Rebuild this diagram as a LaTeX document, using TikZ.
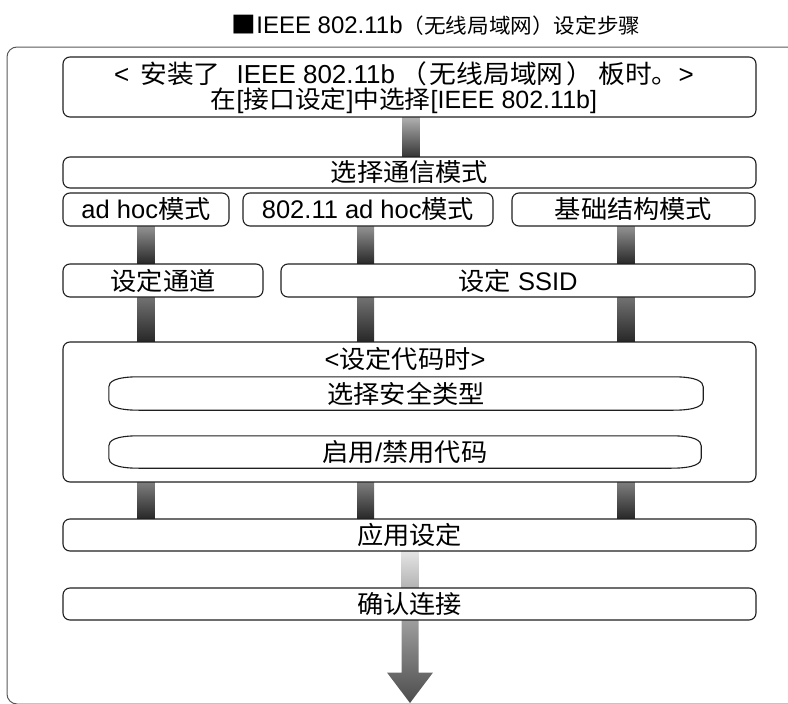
\documentclass[tikz,border=0pt]{standalone}
\usepackage{fontspec}
\setmainfont{Liberation Sans}
\newfontfamily\cjk[FakeStretch=1.05,Scale=0.98]{Noto Sans CJK SC}
\usetikzlibrary{calc}
\newcommand\zh[1]{{\cjk #1}}
\pgfdeclarelayer{bg}
\pgfsetlayers{bg,main}
\begin{document}
\begin{tikzpicture}[x=1pt,y=-1pt,
  box/.style={draw=black!88, line width=1.1pt, rounded corners=7pt, fill=white,
    inner sep=0pt, font=\fontsize{25.5}{23}\selectfont},
  plain/.style={inner sep=0pt, font=\fontsize{25.5}{23}\selectfont},
  tline/.style={inner sep=0pt, text height=18pt, text depth=4pt},
  pillline/.style={draw=black!88, line width=1.1pt},
  frameline/.style={draw=black!65, line width=1pt, rounded corners=10pt}]
\useasboundingbox (0,0) rectangle (788,704);

% title
\node[plain, font=\fontsize{24}{24}\selectfont] (title) at (436,25) {\zh{■}IEEE 802.11b{\cjk\fontsize{21}{21}\selectfont（无线局域网）设定步骤}};

% outer frame
\draw[frameline] (800,47) -- (7,47) -- (7,704) -- (800,704);

% boxes
\node[box, minimum width=693, minimum height=60] (b1) at (409.5,87) {};
\node[tline, font=\fontsize{26}{23}\selectfont] (b1l1) at (404,76)
  {<\hspace{11pt}\zh{安装了}\hspace{16pt}IEEE 802.11b\hspace{5pt}\zh{（}\hspace{3pt}\zh{无线局域网}\hspace{3pt}\zh{）}\hspace{5pt}\zh{板时。}>};
\node[tline, font=\fontsize{25}{23}\selectfont] (b1l2) at (404,101)
  {\zh{在}[\zh{接口设定}]\zh{中选择}[IEEE 802.11b]};
\node[box, minimum width=693, minimum height=31] (b2) at (409.5,172.5) {\zh{选择通信模式}};
\node[box, minimum width=166, minimum height=33] (b3a) at (146,209.5) {ad hoc\zh{模式}};
\node[box, minimum width=250, minimum height=33] (b3b) at (368,209.5) {802.11 ad hoc\zh{模式}};
\node[box, minimum width=243, minimum height=33] (b3c) at (633.5,209.5) {\zh{基础结构模式}};
\node[box, minimum width=200, minimum height=33] (b4a) at (163,280.5) {\zh{设定通道}};
\node[box, minimum width=474, minimum height=33] (b4b) at (518,280.5) {\zh{设定} SSID};
\node[box, minimum width=693, minimum height=140] (b5) at (409.5,412) {};
\node[plain] (b5t) at (405,359) {<\zh{设定代码时}>};
\node[plain, minimum width=594, minimum height=33] (i1) at (406,393.5) {\zh{选择安全类型}};
\node[plain, minimum width=592, minimum height=32] (i2) at (405,452) {\zh{启用}/\zh{禁用代码}};
\node[box, minimum width=693, minimum height=32] (b6) at (409.5,535) {\zh{应用设定}};
\node[box, minimum width=693, minimum height=32] (b7) at (409.5,604) {\zh{确认连接}};

% pill outlines of inner boxes
\foreach \n in {i1,i2}{
\draw[pillline] ($(\n.north west)+(30,0)$) -- ($(\n.north east)+(-30,0)$)
  .. controls +(24,0) and +(0,-5) .. ($(\n.north east)+(0,10)$)
  -- ($(\n.south east)+(0,-10)$)
  .. controls +(0,5) and +(24,0) .. ($(\n.south east)+(-30,0)$)
  -- ($(\n.south west)+(30,0)$)
  .. controls +(-24,0) and +(0,5) .. ($(\n.south west)+(0,-10)$)
  -- ($(\n.north west)+(0,10)$)
  .. controls +(0,-5) and +(-24,0) .. cycle;
}

% x positions of the connector bars
\coordinate (xM) at (411,0);
\coordinate (xI) at (410,0);
\coordinate (xA) at (146,0);
\coordinate (xB) at (365.5,0);
\coordinate (xC) at (626,0);

\newcommand\vbar[5]{%
  \shade[top color=#4, bottom color=#5]
    ($(#1.south -| #3)+(-8.5,-1)$) rectangle ($(#2.north -| #3)+(8.5,1)$);}

\begin{pgfonlayer}{bg}
\vbar{b1}{b2}{xM}{black!30}{black!80}
\vbar{b3a}{b4a}{xA}{black!42}{black!85}
\vbar{b3b}{b4b}{xB}{black!42}{black!85}
\vbar{b3c}{b4b}{xC}{black!42}{black!85}
\vbar{b4a}{b5}{xA}{black!55}{black!85}
\vbar{b4b}{b5}{xB}{black!55}{black!85}
\vbar{b4b}{b5}{xC}{black!55}{black!85}
\vbar{i1}{i2}{xI}{black!50}{black!85}
\vbar{b5}{b6}{xA}{black!50}{black!85}
\vbar{b5}{b6}{xB}{black!50}{black!85}
\vbar{b5}{b6}{xC}{black!50}{black!85}
\vbar{b6}{b7}{xI}{black!10}{black!30}
\coordinate (tip) at (410,703);
\shade[top color=black!38, bottom color=black!70]
  ($(b7.south -| xI)+(-8.5,-1)$) -- ($(b7.south -| xI)+(-8.5,52)$) -- ($(b7.south -| xI)+(-23,52)$)
  -- (tip) -- ($(b7.south -| xI)+(23,52)$) -- ($(b7.south -| xI)+(8.5,52)$) -- ($(b7.south -| xI)+(8.5,-1)$) -- cycle;
\end{pgfonlayer}
\end{tikzpicture}
\end{document}
